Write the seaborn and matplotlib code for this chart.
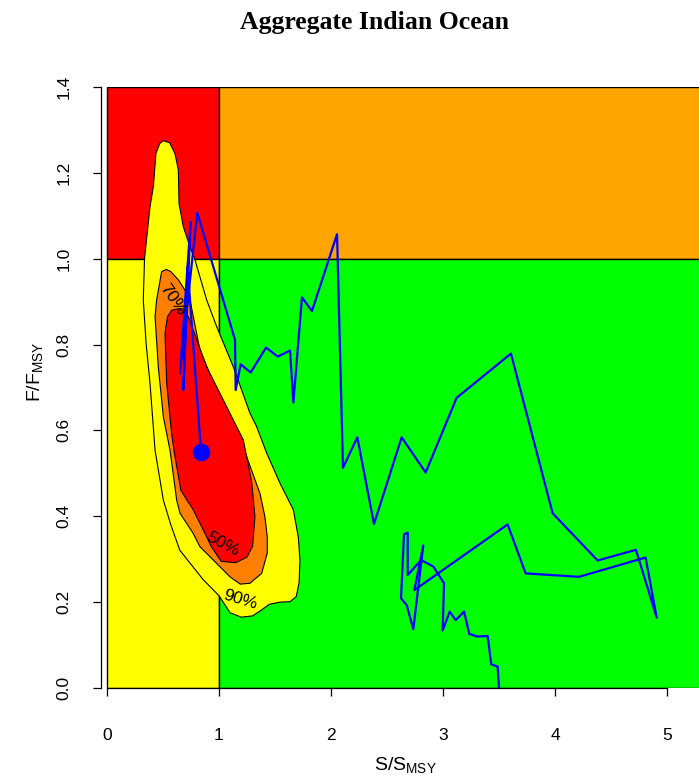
import matplotlib
matplotlib.use("Agg")
import matplotlib.pyplot as plt
from matplotlib.patches import Rectangle
import seaborn as sns

# Stock status trajectory, S/S_MSY against F/F_MSY, first year to last
traj_s = [3.50, 3.488, 3.431, 3.399, 3.306, 3.235, 3.188, 3.113, 3.060, 2.997,
          3.009, 2.914, 2.804, 2.685, 2.685, 2.652, 2.625, 2.676, 2.735, 2.824,
          2.744, 3.577, 3.738, 4.214, 4.809, 4.908, 4.723, 4.381, 3.979, 3.607,
          3.122, 2.845, 2.631, 2.384, 2.235, 2.107, 2.054, 1.830, 1.741, 1.664,
          1.634, 1.524, 1.420, 1.283, 1.193, 1.149, 1.143, 0.806, 0.652, 0.747,
          0.681, 0.720, 0.839]
traj_f = [0.000, 0.050, 0.055, 0.121, 0.120, 0.126, 0.178, 0.158, 0.178, 0.134,
          0.244, 0.283, 0.298, 0.263, 0.362, 0.358, 0.209, 0.193, 0.137, 0.332,
          0.228, 0.381, 0.267, 0.259, 0.304, 0.164, 0.322, 0.297, 0.407, 0.779,
          0.676, 0.502, 0.584, 0.382, 0.584, 0.513, 1.057, 0.878, 0.910, 0.665,
          0.786, 0.772, 0.793, 0.735, 0.754, 0.694, 0.811, 1.107, 0.733, 1.086,
          0.694, 0.980, 0.550]

# Uncertainty regions of the final-year estimate (90 %, 70 %, 50 %)
c90_s = [0.503, 0.560, 0.607, 0.637, 0.643, 0.681, 0.741, 0.786, 0.890, 0.979,
         1.128, 1.277, 1.336, 1.426, 1.545, 1.664, 1.708, 1.723, 1.715, 1.690,
         1.634, 1.545, 1.450, 1.370, 1.300, 1.200, 1.100, 1.000, 0.860, 0.650,
         0.570, 0.503, 0.429, 0.384, 0.350, 0.324, 0.335, 0.384, 0.414, 0.437,
         0.470]
c90_f = [1.275, 1.270, 1.245, 1.207, 1.129, 1.075, 1.028, 0.997, 0.904, 0.842,
         0.748, 0.640, 0.609, 0.547, 0.477, 0.415, 0.352, 0.298, 0.245, 0.213,
         0.201, 0.200, 0.195, 0.180, 0.168, 0.165, 0.175, 0.215, 0.252, 0.321,
         0.380, 0.438, 0.554, 0.710, 0.800, 0.904, 1.000, 1.121, 1.168, 1.245,
         1.268]

c70_s = [0.488, 0.530, 0.570, 0.640, 0.700, 0.741, 0.830, 0.979, 1.128, 1.247,
         1.366, 1.410, 1.431, 1.431, 1.381, 1.277, 1.190, 1.098, 0.949, 0.830,
         0.770, 0.652, 0.622, 0.5625, 0.503, 0.458, 0.429, 0.443]
c70_f = [0.970, 0.975, 0.970, 0.950, 0.925, 0.904, 0.787, 0.694, 0.609, 0.539,
         0.453, 0.399, 0.352, 0.314, 0.267, 0.244, 0.242, 0.259, 0.298, 0.329,
         0.360, 0.407, 0.438, 0.554, 0.632, 0.748, 0.865, 0.904]

c50_s = [0.577, 0.652, 0.726, 0.890, 1.069, 1.217, 1.292, 1.321, 1.300, 1.250,
         1.150, 1.020, 0.930, 0.860, 0.770, 0.660, 0.600, 0.577, 0.533, 0.518,
         0.540]
c50_f = [0.880, 0.884, 0.865, 0.748, 0.655, 0.578, 0.480, 0.399, 0.330, 0.305,
         0.292, 0.295, 0.330, 0.368, 0.415, 0.460, 0.550, 0.593, 0.710, 0.826,
         0.865]

x_ticks = [0, 1, 2, 3, 4, 5]
y_ticks = [0.0, 0.2, 0.4, 0.6, 0.8, 1.0, 1.2, 1.4]
y_tick_labels = ["0.0", "0.2", "0.4", "0.6", "0.8", "1.0", "1.2", "1.4"]

sns.set_theme(style="white")
plt.rcParams["font.family"] = ["Liberation Sans", "DejaVu Sans"]
plt.rcParams["mathtext.fontset"] = "custom"
plt.rcParams["mathtext.rm"] = "Liberation Sans"
plt.rcParams["mathtext.it"] = "Liberation Sans:italic"
for key in ("text.color", "axes.labelcolor", "xtick.color", "ytick.color",
            "axes.edgecolor"):
    plt.rcParams[key] = "black"

W, H = 699, 776
fig = plt.figure(figsize=(W / 100, H / 100), dpi=100)
ax = fig.add_axes([101 / W, 88 / H, 598 / W, 601 / H])
x_lo, x_hi = -0.0536, 5.286
ax.set_xlim(x_lo, x_hi)
ax.set_ylim(0, 1.4)

# Kobe quadrants
quad = dict(edgecolor="black", linewidth=1.0, zorder=1)
ax.add_patch(Rectangle((0, 1), 1, 0.4, facecolor="#FF0000", **quad))
ax.add_patch(Rectangle((1, 1), x_hi + 1, 0.4, facecolor="#FFA500", **quad))
ax.add_patch(Rectangle((0, 0), 1, 1, facecolor="#FFFF00", **quad))
ax.add_patch(Rectangle((1, 0), x_hi + 1, 1, facecolor="#00FF00", **quad))

# Confidence regions
ax.fill(c90_s, c90_f, facecolor="#FFFF00", edgecolor="black", linewidth=0.8, zorder=2)
ax.fill(c70_s, c70_f, facecolor="#FF8000", edgecolor="black", linewidth=0.8, zorder=3)
ax.fill(c50_s, c50_f, facecolor="#FF0000", edgecolor="black", linewidth=0.8, zorder=4)

lab = dict(ha="center", va="center", fontsize=12.5, color="black", zorder=7,
           rotation_mode="anchor")
ax.text(1.03, 0.335, "50%", rotation=-28, **lab)
ax.text(0.585, 0.905, "70%", rotation=-55, **lab)
ax.text(1.19, 0.205, "90%", rotation=-17, **lab)

# Trajectory and final year
sns.lineplot(x=traj_s, y=traj_f, sort=False, estimator=None, color="#0000FF",
             linewidth=1.6, ax=ax, zorder=5)
sns.scatterplot(x=traj_s[-1:], y=traj_f[-1:], s=160, color="#0000FF",
                edgecolor="#0000FF", linewidth=0, ax=ax, zorder=6)

for side in ("top", "right"):
    ax.spines[side].set_visible(False)
ax.spines["left"].set_bounds(0, 1.4)
ax.spines["bottom"].set_bounds(0, 5)
for side in ("left", "bottom"):
    ax.spines[side].set_color("black")
    ax.spines[side].set_linewidth(0.9)

ax.set_xticks(x_ticks)
ax.set_xticklabels([str(v) for v in x_ticks])
ax.set_yticks(y_ticks)
ax.set_yticklabels(y_tick_labels)
ax.tick_params(axis="both", direction="out", length=5.5, width=0.9,
               color="black", labelcolor="black", labelsize=12.5,
               left=True, bottom=True)
ax.tick_params(axis="x", pad=23)
ax.tick_params(axis="y", pad=16)
for t in ax.get_yticklabels():
    t.set_rotation(90)
    t.set_va("center")

ax.set_xlabel(r"$\mathrm{S/S_{MSY}}$", fontsize=14, color="black")
ax.set_ylabel(r"$\mathrm{F/F_{MSY}}$", fontsize=14, color="black")
ax.xaxis.set_label_coords((405 - 101) / 598, (688 - 765) / 601)
ax.yaxis.set_label_coords((35 - 101) / 598, (688 - 372) / 601)
ax.xaxis.label.set_va("center")
ax.yaxis.label.set_va("center")

fig.text(375 / W, 1 - 22 / H, "Aggregate Indian Ocean", ha="center", va="center",
         fontsize=18.5, fontweight="bold", color="black",
         family=["Liberation Serif", "DejaVu Serif"])

fig.savefig("out.png", dpi=100)
